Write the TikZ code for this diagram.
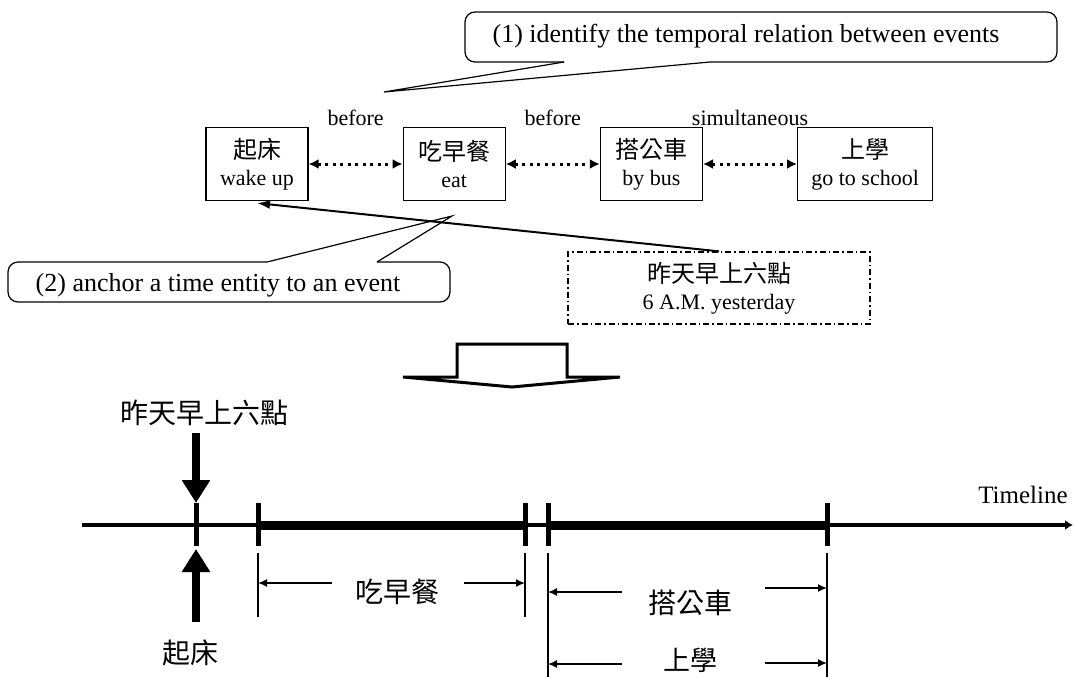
\documentclass[tikz,border=0pt]{standalone}
\usepackage{fontspec}
\setmainfont{Liberation Serif}
\newfontfamily\cjk{Noto Sans CJK TC}
\usetikzlibrary{arrows.meta,positioning}
\newcommand{\zh}[2][24]{{\cjk\fontsize{#1}{#1}\selectfont #2}}

\tikzset{
  event/.style={draw, line width=1.2pt, minimum width=102pt, minimum height=73pt, align=center, inner sep=2pt},
  relation/.style={line width=3pt, dash pattern=on 3pt off 4.5pt, {Latex[length=10pt,width=10pt]}-{Latex[length=10pt,width=10pt]}},
  rellabel/.style={midway, above=33pt},
  balloon/.style={line width=1.2pt, rounded corners=10pt},
  note/.style={font=\fontsize{26}{30}\selectfont},
  timebox/.style={draw, line width=1.3pt, dash pattern=on 6pt off 3pt on 1.5pt off 3pt, minimum width=302pt, minimum height=72pt, align=center, inner sep=2pt},
  anchorarrow/.style={line width=2pt, -{Latex[length=13pt,width=9pt]}},
  tick/.style={line width=5pt},
  pointer/.style={line width=8pt, -{Triangle[length=23pt,width=27pt]}},
  dimline/.style={line width=1.2pt},
  dimarrow/.style={line width=1.5pt, -{Latex[length=9pt,width=8pt]}},
}

\begin{document}
\begin{tikzpicture}[x=1pt,y=-1pt,font=\fontsize{22}{27}\selectfont]
\useasboundingbox (0,0) rectangle (1074,677);

% events and relations
\node[event] (wake) at (257,164) {\zh{起床}\\wake up};
\node[event, right=94pt of wake] (eat) {\zh{吃早餐}\\eat};
\node[event, right=94pt of eat] (bus) {\zh{搭公車}\\by bus};
\node[event, right=94pt of bus, minimum width=135pt] (school) {\zh{上學}\\go to school};
\draw[relation] (wake) -- node[rellabel] {before} (eat);
\draw[relation] (eat) -- node[rellabel] {before} (bus);
\draw[relation] (bus) -- node[rellabel] {simultaneous} (school);

% callout (1)
\coordinate (tip1) at (384,92);
\draw[balloon] (564,62) -- (465,62) -- (465,12) -- (1057,12) -- (1057,62) -- (710,62);
\draw[line width=1.2pt] (564,62) -- (tip1) -- (710,62);
\node[note] (note1) at (746,36) {(1) identify the temporal relation between events};

% time entity
\node[timebox] (time) at (719,288) {\zh{昨天早上六點}\\6 A.M. yesterday};
\draw[anchorarrow] (time.north) -- ([yshift=-2pt]wake.south);

% callout (2)
\coordinate (tip2) at (452,216);
\draw[balloon] (267,262) -- (8,262) -- (8,302) -- (450,302) -- (450,262) -- (377,262);
\draw[line width=1.2pt] (267,262) -- (tip2) -- (377,262);
\node[note] (note2) at (218,285) {(2) anchor a time entity to an event};

% block arrow
\draw[line width=3pt] (403,377) -- (457,377) -- (457,344) -- (567,344) -- (567,377) -- (620,377) -- (512,387) -- cycle;

% timeline
\draw[line width=4pt, -{Latex[length=8pt,width=10pt]}] (82,525) -- (1073,525);
\node[font=\fontsize{25}{30}\selectfont] (tl) at (1023,495) {Timeline};
\foreach \x/\n in {196/0,258/1,525/2,548/3,827/4} {
  \coordinate (t\n) at (\x,525);
  \draw[tick] (\x,503) -- (\x,546);
}
\draw[line width=9pt] (t1) -- (t2);
\draw[line width=9pt] (t3) -- (t4);

\node (when) at (204,413) {\zh[28]{昨天早上六點}};
\node (up) at (190,653) {\zh[28]{起床}};
\draw[pointer] (196,433) -- ([yshift=22pt]t0);
\draw[pointer] (196,622) -- ([yshift=-24pt]t0);

% durations
\draw[dimline] (258,553) -- (258,617);
\draw[dimline] (525,553) -- (525,617);
\draw[dimarrow] (332,583) -- (258,583);
\draw[dimarrow] (464,583) -- (525,583);
\node (d1) at (397,592) {\zh[28]{吃早餐}};

\draw[dimline] (548,553) -- (548,677);
\draw[dimline] (827,553) -- (827,677);
\draw[dimarrow] (622,592) -- (548,592);
\draw[dimarrow] (765,588) -- (827,588);
\node (d2) at (690,603) {\zh[28]{搭公車}};
\draw[dimarrow] (622,664) -- (548,664);
\draw[dimarrow] (765,663) -- (827,663);
\node (d3) at (690,660) {\zh[27]{上學}};
\end{tikzpicture}
\end{document}
